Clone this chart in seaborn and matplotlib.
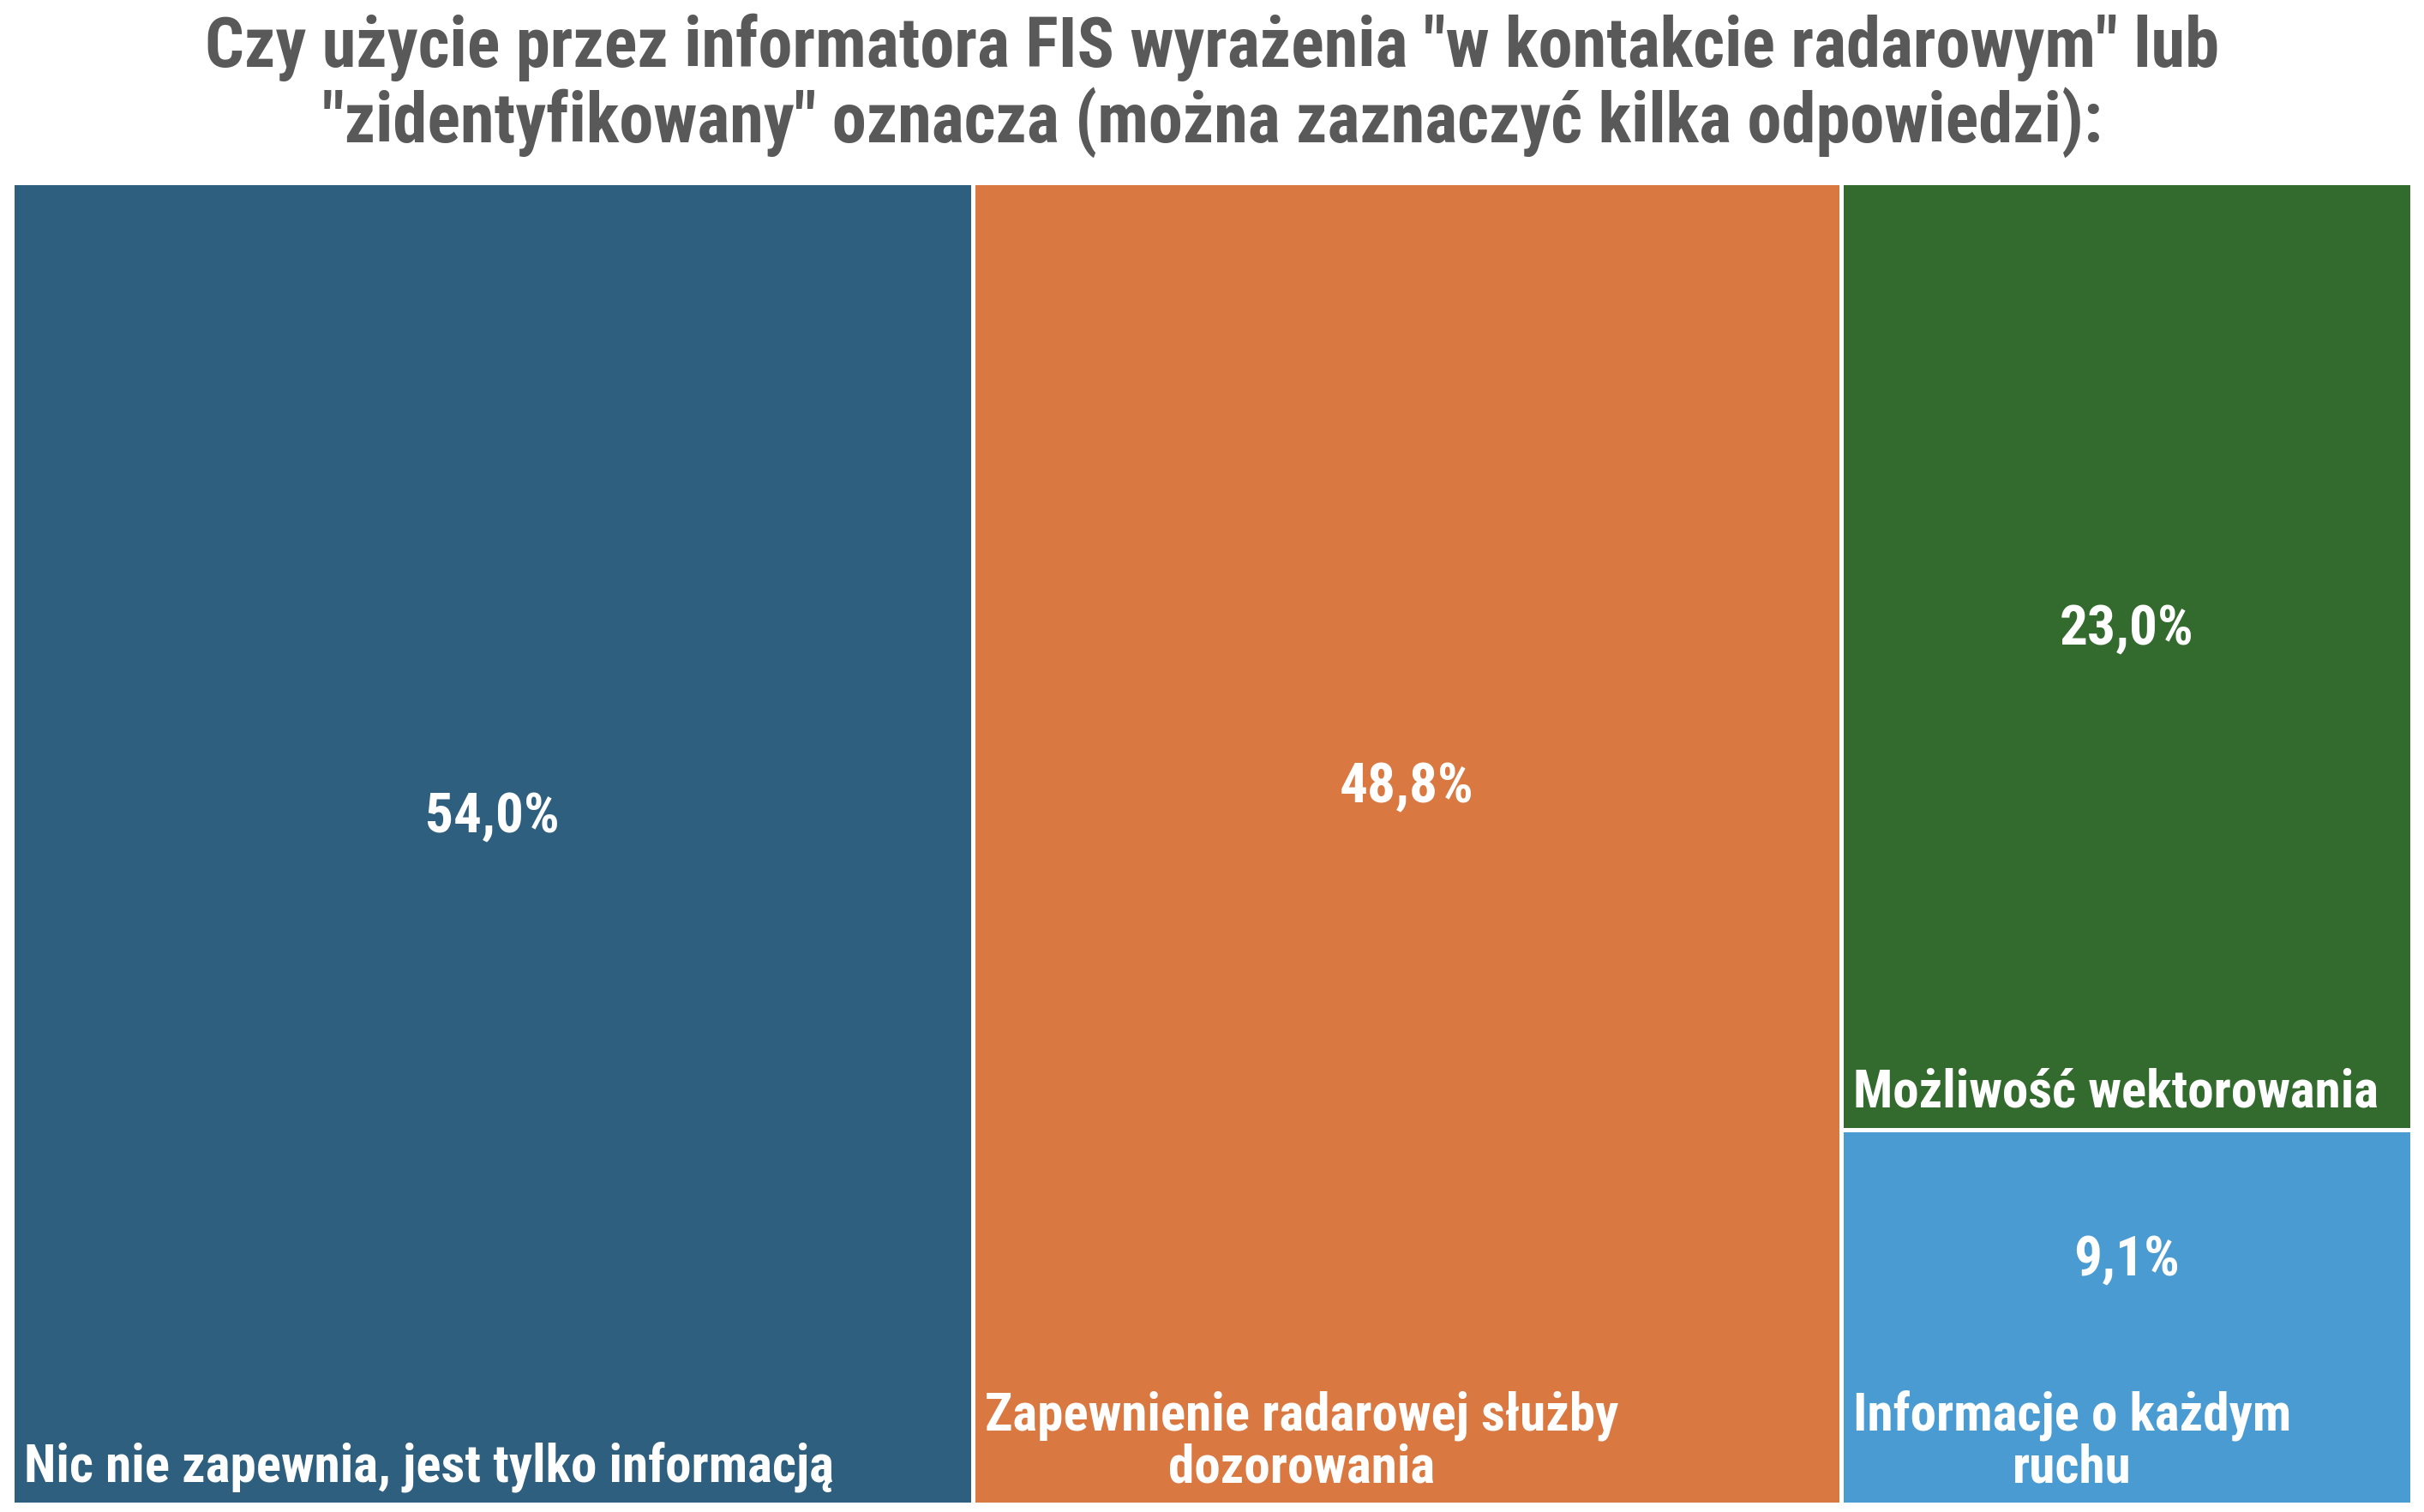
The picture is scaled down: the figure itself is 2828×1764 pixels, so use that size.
import matplotlib
matplotlib.use("Agg")
import matplotlib.pyplot as plt
import matplotlib.patches as mpatches
import seaborn as sns

# dane z wykresu
categories = [
    "Nic nie zapewnia, jest tylko informacją",
    "Zapewnienie radarowej służby\ndozorowania",
    "Możliwość wektorowania",
    "Informacje o każdym\nruchu",
]
values = [54.0, 48.8, 23.0, 9.1]
value_labels = ["54,0%", "48,8%", "23,0%", "9,1%"]
colors = ["#2E5F7F", "#D97841", "#336A2E", "#4A9BD1"]
title = ('Czy użycie przez informatora FIS wyrażenia "w kontakcie radarowym" lub\n'
         '"zidentyfikowany" oznacza (można zaznaczyć kilka odpowiedzi):')


def worst(row, side):
    s = sum(row)
    return max(max(side * side * r / (s * s), s * s / (side * side * r)) for r in row)


def layout_row(row, x, y, w, h, rects):
    s = sum(row)
    if w >= h:
        # kolumna po lewej
        cw = s / h
        yy = y
        for r in row:
            rects.append((x, yy, cw, r / cw))
            yy += r / cw
        return x + cw, y, w - cw, h
    # wiersz u góry
    rh = s / w
    xx = x
    for r in row:
        rects.append((xx, y, r / rh, rh))
        xx += r / rh
    return x, y + rh, w, h - rh


def squarify(vals, x, y, w, h):
    total = sum(vals)
    areas = [v * w * h / total for v in vals]
    rects = []
    row = []
    i = 0
    while i < len(areas):
        side = min(w, h)
        a = areas[i]
        if not row or worst(row + [a], side) <= worst(row, side):
            row.append(a)
            i += 1
        else:
            x, y, w, h = layout_row(row, x, y, w, h, rects)
            row = []
    if row:
        layout_row(row, x, y, w, h, rects)
    return rects


sns.set_theme(style="white")
plt.rcParams['font.family'] = ['Roboto Condensed', 'Liberation Sans', 'DejaVu Sans']

DPI = 100
FW, FH = 2828, 1764
fig = plt.figure(figsize=(FW / DPI, FH / DPI), dpi=DPI)

left, right, top, bottom = 14, 2814, 213, 1755
AW, AH = right - left, bottom - top
ax = fig.add_axes([left / FW, 1 - bottom / FH, AW / FW, AH / FH])
ax.set_xlim(0, AW)
ax.set_ylim(AH, 0)
ax.axis("off")

rects = squarify(values, 0, 0, AW, AH)

cat_pt = 44
val_pt = 47
line_px = cat_pt * DPI / 72 * 1.15
pad = 14

for (x, y, w, h), cat, lab, col in zip(rects, categories, value_labels, colors):
    ax.add_patch(mpatches.Rectangle((x, y), w, h, facecolor=col,
                                    edgecolor="white", linewidth=3.6))
    n_lines = cat.count("\n") + 1
    ax.text(x + pad, y + h - pad, cat, ha="left", va="bottom",
            multialignment="center", color="white", fontsize=cat_pt,
            fontweight="bold", linespacing=1.05)
    free = h - n_lines * line_px - pad
    ax.text(x + w / 2, y + free / 2 + 12, lab, ha="center", va="center",
            color="white", fontsize=val_pt, fontweight="bold")

fig.text(0.5, 1 - 100 / FH, title, ha="center", va="center",
         color="#595959", fontsize=58, fontweight="bold", linespacing=1.1)

fig.savefig("out.png", dpi=DPI, facecolor="white")
